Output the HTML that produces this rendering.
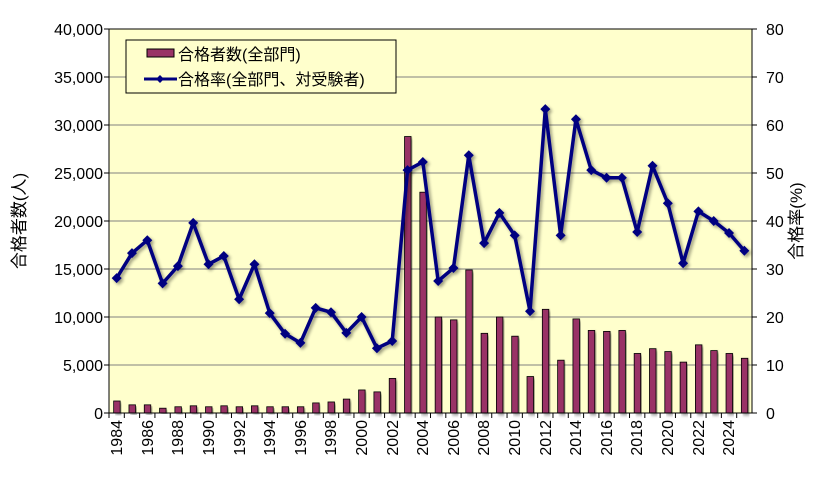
<!DOCTYPE html>
<html><head><meta charset="utf-8"><style>
body{margin:0;background:#fff;}
svg{display:block;font-family:"Liberation Sans","Noto Sans CJK JP",sans-serif;}
</style></head><body>
<svg id="s" width="827" height="491" viewBox="0 0 827 491" xmlns="http://www.w3.org/2000/svg">
<defs><filter id="sh" x="-10%" y="-10%" width="130%" height="130%"><feGaussianBlur in="SourceAlpha" stdDeviation="1.5"/><feOffset dx="2" dy="2" result="b"/><feComponentTransfer><feFuncA type="linear" slope="0.4"/></feComponentTransfer><feMerge><feMergeNode/><feMergeNode in="SourceGraphic"/></feMerge></filter></defs>
<rect x="109" y="29" width="643" height="384" fill="#FFFFCC"/>
<g id="grid" stroke="#808080" stroke-width="1"></g>
<g id="bars"></g>
<g id="line"></g>
<rect x="109" y="29" width="643" height="384" fill="none" stroke="#000" stroke-width="1"/>
<g id="ticks" stroke="#000"></g>
<g font-size="16" fill="#000" text-anchor="end">
<text x="103" y="419">0</text><text x="103" y="371">5,000</text><text x="103" y="323">10,000</text><text x="103" y="275">15,000</text><text x="103" y="227">20,000</text><text x="103" y="179">25,000</text><text x="103" y="131">30,000</text><text x="103" y="83">35,000</text><text x="103" y="35">40,000</text>
</g>
<g font-size="16" fill="#000" text-anchor="start">
<text x="766" y="419">0</text><text x="766" y="371">10</text><text x="766" y="323">20</text><text x="766" y="275">30</text><text x="766" y="227">40</text><text x="766" y="179">50</text><text x="766" y="131">60</text><text x="766" y="83">70</text><text x="766" y="35">80</text>
</g>
<g font-size="16" fill="#000" text-anchor="end">
<text transform="translate(122,420) rotate(-90)">1984</text>
<text transform="translate(153,420) rotate(-90)">1986</text>
<text transform="translate(183,420) rotate(-90)">1988</text>
<text transform="translate(214,420) rotate(-90)">1990</text>
<text transform="translate(245,420) rotate(-90)">1992</text>
<text transform="translate(275,420) rotate(-90)">1994</text>
<text transform="translate(306,420) rotate(-90)">1996</text>
<text transform="translate(336,420) rotate(-90)">1998</text>
<text transform="translate(367,420) rotate(-90)">2000</text>
<text transform="translate(398,420) rotate(-90)">2002</text>
<text transform="translate(428,420) rotate(-90)">2004</text>
<text transform="translate(459,420) rotate(-90)">2006</text>
<text transform="translate(489,420) rotate(-90)">2008</text>
<text transform="translate(520,420) rotate(-90)">2010</text>
<text transform="translate(551,420) rotate(-90)">2012</text>
<text transform="translate(581,420) rotate(-90)">2014</text>
<text transform="translate(612,420) rotate(-90)">2016</text>
<text transform="translate(642,420) rotate(-90)">2018</text>
<text transform="translate(673,420) rotate(-90)">2020</text>
<text transform="translate(704,420) rotate(-90)">2022</text>
<text transform="translate(734,420) rotate(-90)">2024</text>
</g>
<text transform="translate(25,221) rotate(-90)" font-size="17" text-anchor="middle">合格者数(人)</text>
<text transform="translate(802,221) rotate(-90)" font-size="17" text-anchor="middle">合格率(%)</text>
<rect x="126" y="40" width="270" height="53" fill="#FFFFCC" stroke="#000" stroke-width="1"/>
<rect x="147" y="49" width="27" height="8" fill="#993366" stroke="#000" stroke-width="1"/>
<line x1="144" y1="79" x2="177" y2="79" stroke="#000080" stroke-width="3"/>
<path d="M160 75 L164 79 L160 83 L156 79Z" fill="#000080"/>
<text x="178" y="60" font-size="16">合格者数(全部門)</text>
<text x="178" y="85" font-size="16">合格率(全部門、対受験者)</text>
</svg>
<script>
var cnt=[1250,850,850,500,650,750,650,750,650,750,650,650,650,1050,1150,1450,2400,2200,3600,28800,23000,10000,9700,14900,8300,10000,8000,3800,10800,5500,9800,8600,8500,8600,6200,6700,6400,5300,7100,6500,6200,5700];
var rate=[28.1,33.3,36,27,30.6,39.6,31,32.7,23.7,31,20.8,16.5,14.6,21.9,21,16.7,20,13.5,15,50.6,52.3,27.5,30.2,53.7,35.4,41.7,37,21.2,63.3,37,61.2,50.6,49,49,37.7,51.5,43.7,31.2,42,40,37.5,33.8];
var NS="http://www.w3.org/2000/svg";
function el(p,t,a){var e=document.createElementNS(NS,t);for(var k in a)e.setAttribute(k,a[k]);document.getElementById(p).appendChild(e);return e;}
for(var i=1;i<8;i++){var y=413-i*48;el("grid","line",{x1:109,x2:752,y1:y,y2:y});}
for(var i=0;i<=8;i++){var y=413-i*48;el("ticks","line",{x1:104,x2:109,y1:y,y2:y});el("ticks","line",{x1:752,x2:757,y1:y,y2:y});}
var w=643/42,pts=[];
for(var i=0;i<42;i++){var cx=109+w*(i+0.5);
el("ticks","line",{x1:109+w*i,x2:109+w*i,y1:413,y2:418});
var h=cnt[i]*384/40000;
el("bars","rect",{x:cx-3,y:413-h,width:6.5,height:h,fill:"#993366",stroke:"#000","stroke-width":0.8,filter:"url(#sh)"});
pts.push([cx,413-rate[i]*4.8]);}
var g=el("line","g",{filter:"url(#sh)"});
var pl=document.createElementNS(NS,"polyline");pl.setAttribute("points",pts.map(function(p){return p.join(",")}).join(" "));
pl.setAttribute("fill","none");pl.setAttribute("stroke","#000080");pl.setAttribute("stroke-width","3.5");pl.setAttribute("stroke-linejoin","round");g.appendChild(pl);
pts.forEach(function(p){var d=document.createElementNS(NS,"path");d.setAttribute("d","M"+p[0]+" "+(p[1]-5)+"L"+(p[0]+5)+" "+p[1]+"L"+p[0]+" "+(p[1]+5)+"L"+(p[0]-5)+" "+p[1]+"Z");d.setAttribute("fill","#000080");g.appendChild(d);});
</script>
</body></html>
